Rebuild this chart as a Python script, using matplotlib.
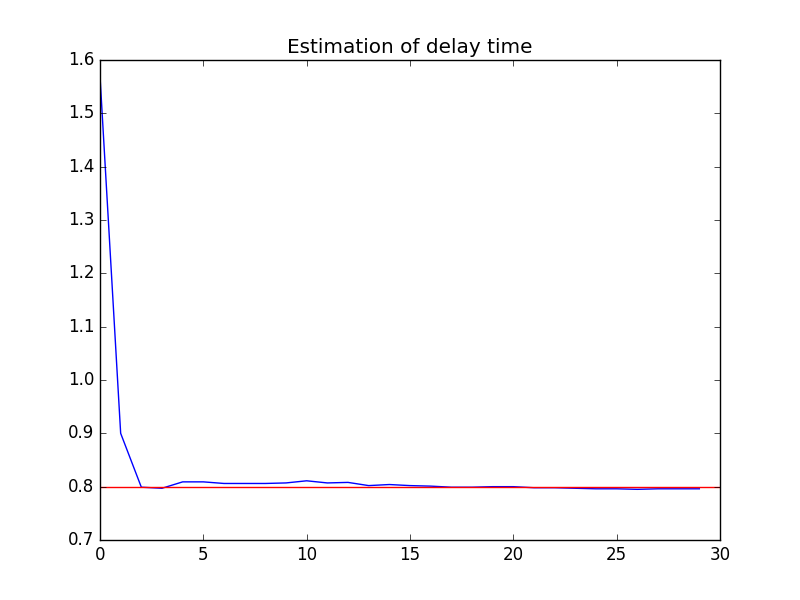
import numpy as np
import matplotlib
matplotlib.use('Agg')
import matplotlib.pyplot as plt

plt.style.use('classic')

steps = np.arange(30)
delay_est = [1.57, 0.90, 0.799, 0.797, 0.809, 0.809, 0.806, 0.806, 0.806, 0.807,
             0.811, 0.807, 0.808, 0.802, 0.804, 0.802, 0.801, 0.799, 0.799, 0.800,
             0.800, 0.798, 0.798, 0.797, 0.796, 0.796, 0.795, 0.796, 0.796, 0.796]
true_x = [0, 30]
true_delay = [0.8, 0.8]
yticks = [0.7, 0.8, 0.9, 1.0, 1.1, 1.2, 1.3, 1.4, 1.5, 1.6]

fig = plt.figure(figsize=(8, 6), dpi=100)
fig.patch.set_facecolor('white')
plt.plot(steps, delay_est, 'b-')
plt.plot(true_x, true_delay, 'r-')
plt.xlim(0, 30)
plt.ylim(0.7, 1.6)
plt.yticks(yticks, ['%.1f' % t for t in yticks])
plt.title('Estimation of delay time')
fig.savefig('out.png', dpi=100, facecolor='white')
